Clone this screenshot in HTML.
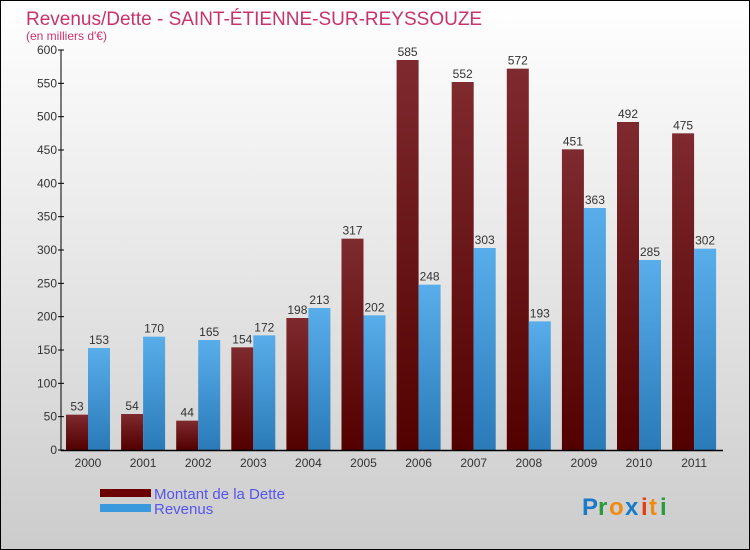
<!DOCTYPE html>
<html><head><meta charset="utf-8"><style>
body{margin:0}
#c{width:750px;height:550px;position:relative;box-sizing:border-box;border:1px solid #000;background:linear-gradient(#fff,#ccc);font-family:"Liberation Sans",sans-serif;overflow:hidden}
</style></head><body>
<div id="c">
<svg id="s" width="750" height="550" style="position:absolute;left:-1px;top:-1px">
<defs>
<linearGradient id="gd" x1="0" y1="0" x2="0" y2="1"><stop offset="0" stop-color="#7e2a2e"/><stop offset="1" stop-color="#520000"/></linearGradient>
<linearGradient id="gr" x1="0" y1="0" x2="0" y2="1"><stop offset="0" stop-color="#58aeea"/><stop offset="1" stop-color="#2a7ab8"/></linearGradient>
</defs>
<text x="26" y="25" font-size="19" fill="#c8336b">Revenus/Dette - SAINT-ÉTIENNE-SUR-REYSSOUZE</text>
<text x="26" y="40" font-size="12" fill="#c8336b">(en milliers d'€)</text>
<g id="bars"></g>
<g id="axes"></g>
<rect x="100" y="489" width="51" height="8" fill="#6a0000"/>
<rect x="100" y="504" width="51" height="8" fill="#3a98dc"/>
<text x="154" y="499" font-size="15" fill="#5555ee">Montant de la Dette</text>
<text x="154" y="514" font-size="15" fill="#5555ee">Revenus</text>
<g font-size="24" font-weight="bold"><text x="582" y="515" fill="#1a7ac8">P</text><text x="598" y="515" fill="#2a9a3a">r</text><text x="609" y="515" fill="#f08a10">o</text><text x="625" y="515" fill="#1a7ac8">x</text><text x="641" y="515" fill="#e04010">i</text><text x="649" y="515" fill="#f08a10">t</text><text x="660" y="515" fill="#2a9a3a">i</text></g>
</svg>
</div>
<script>
const years=["2000","2001","2002","2003","2004","2005","2006","2007","2008","2009","2010","2011"];
const dette=[53,54,44,154,198,317,585,552,572,451,492,475];
const revenus=[153,170,165,172,213,202,248,303,193,363,285,302];
const yTicks=[0,50,100,150,200,250,300,350,400,450,500,550,600];
const NS="http://www.w3.org/2000/svg";
const y=v=>450-v*400/600, x0=i=>66+i*55.1;
function mk(t,a,p){const e=document.createElementNS(NS,t);for(const k in a)e.setAttribute(k,a[k]);p.appendChild(e);return e;}
const B=document.getElementById('bars'),A=document.getElementById('axes');
years.forEach((yr,i)=>{
 let r=mk('rect',{x:x0(i),y:y(dette[i]),width:22,height:450-y(dette[i]),fill:'url(#gd)'},B);
 
 
 let r2=mk('rect',{x:x0(i)+22,y:y(revenus[i]),width:22,height:450-y(revenus[i]),fill:'url(#gr)'},B);
 
 
 let t=mk('text',{x:x0(i)+11,y:y(dette[i])-4,'font-size':12,fill:'#333','text-anchor':'middle'},B);t.textContent=dette[i];
 
 
 let t2=mk('text',{x:x0(i)+33,y:y(revenus[i])-4,'font-size':12,fill:'#333','text-anchor':'middle'},B);t2.textContent=revenus[i];
 
 
 let xl=mk('text',{x:x0(i)+22,y:467,'font-size':12,fill:'#333','text-anchor':'middle'},A);xl.textContent=yr;
 
 
});
mk('line',{x1:61,y1:50,x2:61,y2:451,stroke:'#000','stroke-width':1},A);
mk('line',{x1:61,y1:450.5,x2:723,y2:450.5,stroke:'#000','stroke-width':1.5},A);
yTicks.forEach(v=>{
 mk('line',{x1:58,y1:y(v),x2:64,y2:y(v),stroke:'#000'},A);
 let t=mk('text',{x:57,y:y(v)+4,'font-size':12,fill:'#333','text-anchor':'end'},A);t.textContent=v;
 
 
});
</script>
</body></html>
